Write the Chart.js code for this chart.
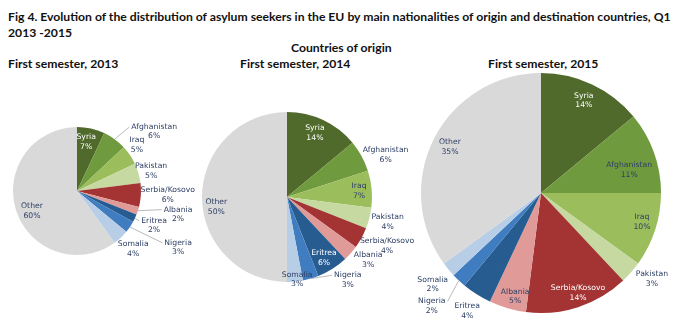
<!DOCTYPE html>
<html lang="en">
<head>
<meta charset="utf-8">
<title>Asylum seekers by nationality of origin</title>
<script src="https://cdn.jsdelivr.net/npm/chart.js"></script>
<style>
  body { margin: 0; background: #fff; }
  .page { position: relative; width: 691px; height: 333px; overflow: hidden; }
  .txt { position: absolute; font-family: Lato, "Liberation Sans", sans-serif; font-weight: bold; font-size: 12.2px; color: #111; white-space: nowrap; line-height: 1; }
  canvas { position: absolute; left: 0; top: 0; }
</style>
</head>
<body>
<div class="page">
  <div class="txt" style="left:8px; top:11px;">Fig 4. Evolution of the distribution of asylum seekers in the EU by main nationalities of origin and destination countries, Q1</div>
  <div class="txt" style="left:8px; top:27px;">2013 -2015</div>
  <div class="txt" style="left:291px; top:42px;">Countries of origin</div>
  <div class="txt" style="left:8px; top:58px;">First semester, 2013</div>
  <div class="txt" style="left:240px; top:58px;">First semester, 2014</div>
  <div class="txt" style="left:488px; top:58px;">First semester, 2015</div>

  <canvas id="pie2013" width="691" height="333"></canvas>
  <canvas id="pie2014" width="691" height="333"></canvas>
  <canvas id="pie2015" width="691" height="333"></canvas>
</div>

<script>
// data (percent of asylum seekers, first semester)
const countries = ['Syria', 'Afghanistan', 'Iraq', 'Pakistan', 'Serbia/Kosovo', 'Albania', 'Eritrea', 'Nigeria', 'Somalia', 'Other'];
const share2013 = [7, 6, 5, 5, 6, 2, 2, 3, 4, 60];
const share2014 = [14, 6, 7, 4, 4, 3, 6, 3, 3, 50];
const share2015 = [14, 11, 10, 3, 14, 5, 4, 2, 2, 35];

const sliceColors = ['#4f6a2b', '#709a3e', '#9bbd5c', '#c5d9a0', '#a33433', '#e09a98', '#275c91', '#3f7dc0', '#b8cde6', '#d9d9d9'];
const navy = '#2f4066';

// label placement: radius factor of the slice radius, angle nudge in degrees
const labelPlace = {
  2013: {
    radius: [0.78, 1.52, 1.18, 1.2, 1.42, 1.62, 1.32, 1.81, 1.26, 0.77],
    nudge:  [-2, 16.5, -3.3, 1, -1, -5, -1, -5, -1, -6],
    leader: [0, 1, 0, 0, 0, 1, 1, 1, 0, 0],
    white:  [1, 0, 0, 0, 0, 0, 0, 0, 0, 0]
  },
  2014: {
    radius: [0.82, 1.26, 0.85, 1.22, 1.31, 1.21, 0.84, 1.21, 0.98, 0.84],
    nudge:  [-1.6, 5.8, 0.6, -0.5, -2.8, -3.5, 1.2, -20, -1.6, -8],
    leader: [0, 0, 0, 0, 0, 0, 0, 1, 0, 0],
    white:  [1, 0, 0, 0, 0, 0, 1, 0, 0, 0]
  },
  2015: {
    radius: [0.85, 0.76, 0.875, 1.17, 0.89, 0.89, 1.16, 1.31, 1.18, 0.85],
    nudge:  [-0.4, 5.2, -2, -3.6, -2.3, -2.2, -0.4, 0.8, -0.5, -0.2],
    leader: [0, 0, 0, 0, 0, 0, 0, 1, 0, 0],
    white:  [1, 0, 0, 0, 1, 0, 0, 0, 0, 0]
  }
};

// draws "Name / xx%" labels, with grey leader lines where needed
const pieLabels = {
  id: 'pieLabels',
  afterDatasetsDraw(chart, args, opts) {
    const ctx = chart.ctx;
    const meta = chart.getDatasetMeta(0);
    const values = chart.data.datasets[0].data;
    const names = chart.data.labels;
    const lh = 9.4;
    ctx.save();
    ctx.font = '7.7px "DejaVu Sans", sans-serif';
    ctx.textAlign = 'center';
    ctx.textBaseline = 'middle';
    meta.data.forEach((arc, i) => {
      const p = arc.getProps(['x', 'y', 'startAngle', 'endAngle', 'outerRadius'], true);
      const mid = (p.startAngle + p.endAngle) / 2;
      const a = mid + opts.nudge[i] * Math.PI / 180;
      const d = p.outerRadius * opts.radius[i];
      const lx = p.x + Math.cos(a) * d;
      const ly = p.y + Math.sin(a) * d;

      if (opts.leader[i]) {
        const w = ctx.measureText(names[i]).width;
        const ex = p.x + Math.cos(mid) * p.outerRadius;
        const ey = p.y + Math.sin(mid) * p.outerRadius;
        const tx = lx > p.x ? lx - w / 2 - 2 : lx + w / 2 + 2;
        ctx.strokeStyle = '#a8a8a8';
        ctx.lineWidth = 0.8;
        ctx.beginPath();
        ctx.moveTo(ex, ey);
        ctx.lineTo(tx, ly - lh / 2);
        ctx.stroke();
      }

      ctx.fillStyle = opts.white[i] ? '#ffffff' : navy;
      ctx.fillText(names[i], lx, ly - lh / 2);
      ctx.fillText(values[i] + '%', lx, ly + lh / 2);
    });
    ctx.restore();
  }
};

function makePie(id, values, place, pad) {
  new Chart(document.getElementById(id), {
    type: 'pie',
    data: {
      labels: countries,
      datasets: [{
        data: values,
        backgroundColor: sliceColors,
        borderWidth: 0,
        hoverOffset: 0
      }]
    },
    options: {
      responsive: false,
      animation: false,
      events: [],
      layout: { padding: pad },
      plugins: {
        legend: { display: false },
        tooltip: { enabled: false },
        pieLabels: place
      }
    },
    plugins: [pieLabels]
  });
}

makePie('pie2013', share2013, labelPlace[2013], { left: 13, right: 550, top: 127, bottom: 78 });
makePie('pie2014', share2014, labelPlace[2014], { left: 202, right: 319, top: 112, bottom: 51 });
makePie('pie2015', share2015, labelPlace[2015], { left: 421, right: 30, top: 73, bottom: 20 });
</script>
</body>
</html>
